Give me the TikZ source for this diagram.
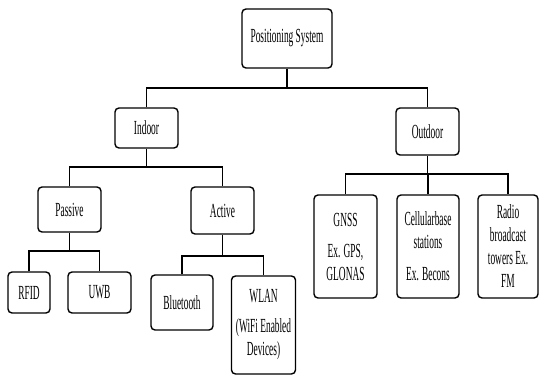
\documentclass[tikz,border=0pt]{standalone}
\usepackage{fontspec}
\setmainfont{Liberation Serif}[FakeStretch=0.47]
\begin{document}
\begin{tikzpicture}[x=1pt,y=-1pt,
  box/.style={draw, line width=1.4pt, rounded corners=4pt, inner sep=0pt,
    align=center, font=\fontsize{20}{23}\selectfont},
  conn/.style={draw, line width=1.2pt}]
\useasboundingbox (0,0) rectangle (539,378);
\node[box, minimum width=90pt, minimum height=59pt] (root) at (287,38.5) {Positioning System};
\node[box, minimum width=63pt, minimum height=40pt] (indoor) at (146.5,128) {Indoor};
\node[box, minimum width=63pt, minimum height=47pt] (outdoor) at (427.5,131.5) {Outdoor};
\node[box, minimum width=63pt, minimum height=45pt] (passive) at (69.5,209.5) {Passive};
\node[box, minimum width=63pt, minimum height=47pt] (active) at (222.5,210.5) {Active};
\node[box, minimum width=42pt, minimum height=41pt] (rfid) at (29,292.5) {RFID};
\node[box, minimum width=63pt, minimum height=41pt] (uwb) at (99.5,292.5) {UWB};
\node[box, minimum width=62pt, minimum height=55pt] (bt) at (182,302.5) {Bluetooth};
\node[box, minimum width=64pt, minimum height=98pt] (wlan) at (263.5,325) {WLAN\\[7pt](WiFi Enabled\\Devices)};
\node[box, minimum width=63pt, minimum height=103pt] (gnss) at (345.5,246.5) {GNSS\\[8pt]Ex. GPS,\\GLONAS};
\node[box, minimum width=62pt, minimum height=103pt] (cell) at (428,246.5) {Cellularbase\\stations\\[9pt]Ex. Becons};
\node[box, minimum width=60pt, minimum height=103pt] (radio) at (508,246.5) {Radio\\broadcast\\towers Ex.\\FM};
\coordinate (b1) at (287,88);
\coordinate (b2) at (146.5,167);
\coordinate (b3) at (428,174);
\coordinate (b4) at (69.5,251);
\coordinate (b5) at (222.5,256);
\draw[conn] (root.south) -- (root.south |- b1);
\draw[conn] (indoor.north) |- (b1) -| (outdoor.north);
\draw[conn] (indoor.south) -- (indoor.south |- b2);
\draw[conn] (passive.north) |- (b2) -| (active.north);
\draw[conn] (outdoor.south) -- (outdoor.south |- b3);
\draw[conn] (gnss.north) |- (b3) -| (radio.north);
\draw[conn] (cell.north) -- (cell.north |- b3);
\draw[conn] (passive.south) -- (passive.south |- b4);
\draw[conn] (rfid.north) |- (b4) -| (uwb.north);
\draw[conn] (active.south) -- (active.south |- b5);
\draw[conn] (bt.north) |- (b5) -| (wlan.north);
\end{tikzpicture}
\end{document}
